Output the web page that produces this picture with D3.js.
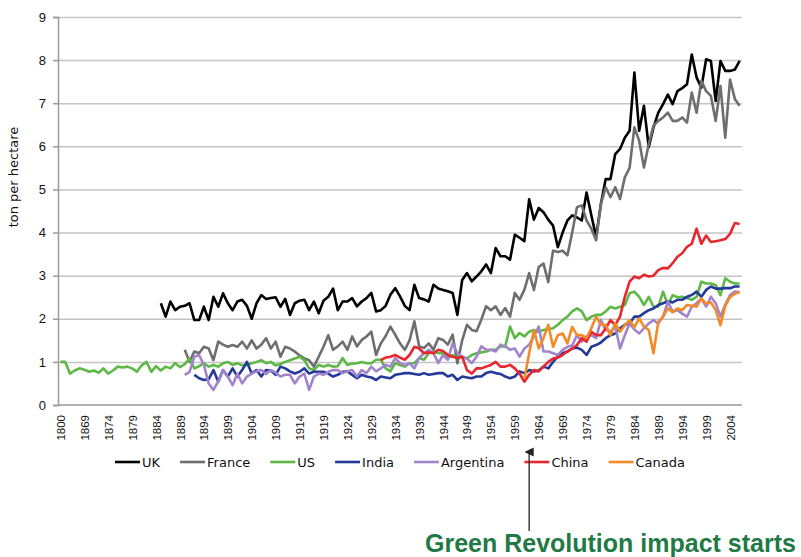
<!DOCTYPE html>
<html>
<head>
<meta charset="utf-8">
<script src="https://cdn.jsdelivr.net/npm/d3@7"></script>
<style>
  body { margin: 0; background: #fff; }
  svg { font-family: "DejaVu Sans", Verdana, sans-serif; }
  .grid line { stroke: #c4c4c4; stroke-width: 1.5; }
  .grid .domain { display: none; }
  .axis .domain, .axis line { stroke: #9a9a9a; stroke-width: 1.5; }
  .axis text { fill: #111; }
  .series { fill: none; stroke-width: 2.6; stroke-linejoin: round; }
</style>
</head>
<body>
<script>
// categories: one lone 1800 point, then every year 1865-2006
var categories = ['1800'].concat(d3.range(1865, 2007).map(String));
var tickLabels = ['1800', '1869', '1874', '1879', '1884', '1889', '1894', '1899', '1904', '1909',
  '1914', '1919', '1924', '1929', '1934', '1939', '1944', '1949', '1954', '1959', '1964',
  '1969', '1974', '1979', '1984', '1989', '1994', '1999', '2004'];
var yTicks = [0, 1, 2, 3, 4, 5, 6, 7, 8, 9];

// wheat yield, ton per hectare, first value belongs to the start category
var ukStart = '1885';
var ukValues = [
  2.36, 2.05, 2.40, 2.20, 2.28, 2.30, 2.36, 1.97, 1.97, 2.28,
  1.97, 2.51, 2.28, 2.59, 2.36, 2.20, 2.40, 2.44, 2.30, 2.00,
  2.36, 2.55, 2.46, 2.48, 2.50, 2.28, 2.46, 2.09, 2.36, 2.42,
  2.44, 2.20, 2.40, 2.13, 2.42, 2.51, 2.70, 2.20,
  2.40, 2.40, 2.48, 2.29, 2.40, 2.48, 2.60, 2.17, 2.20, 2.30,
  2.56, 2.71, 2.52, 2.30, 2.20, 2.79, 2.48, 2.45, 2.40, 2.79,
  2.70, 2.67, 2.64, 2.60, 2.09, 2.90, 3.06, 2.87, 2.98, 3.10,
  3.26, 3.06, 3.64, 3.45, 3.45, 3.37, 3.95, 3.88, 3.80, 4.77, 4.30, 4.57,
  4.47, 4.30, 4.16, 3.66, 4.00, 4.28, 4.40, 4.35, 4.28, 4.93,
  4.40, 3.90, 4.66, 5.24, 5.24, 5.82, 5.94, 6.20, 6.36, 7.71,
  6.36, 6.94, 5.98, 6.44, 6.78, 6.98, 7.20, 6.98, 7.28, 7.35,
  7.44, 8.13, 7.60, 7.36, 8.02, 7.98, 7.05, 7.98, 7.75, 7.75,
  7.78, 7.98];

var franceStart = '1890';
var franceValues = [
  1.28, 1.00, 1.24, 1.20, 1.35, 1.31, 1.04, 1.47, 1.40, 1.35,
  1.39, 1.35, 1.47, 1.31, 1.50, 1.31, 1.40, 1.55, 1.31, 1.47,
  1.12, 1.35, 1.31, 1.24, 1.15, 1.08, 1.04, 0.89, 1.12, 1.35,
  1.62, 1.28,
  1.36, 1.47, 1.28, 1.59, 1.36, 1.51, 1.59, 1.70, 1.16, 1.43,
  1.60, 1.82, 1.63, 1.43, 1.28, 1.50, 1.94, 1.36, 1.32, 1.43,
  1.28, 1.55, 1.51, 1.40, 1.63, 0.97, 1.50, 1.86, 1.74, 1.71,
  1.98, 2.29, 2.20, 2.29, 2.09, 2.25, 2.05, 2.60, 2.44, 2.67, 3.06, 2.67,
  3.20, 3.28, 2.85, 3.58, 3.55, 3.58, 3.47, 4.00, 4.59, 4.63,
  4.28, 4.09, 3.82, 4.66, 5.05, 4.82, 5.05, 4.78, 5.28, 5.50,
  6.44, 6.13, 5.51, 6.05, 6.48, 6.59, 6.67, 6.78, 6.59, 6.59,
  6.67, 6.55, 7.25, 6.78, 7.52, 7.28, 7.17, 6.59, 7.40, 6.20,
  7.55, 7.10, 6.94];

var usStart = '1800';
var usValues = [
  1.00,
  1.00, 0.73, 0.80, 0.85, 0.82, 0.77, 0.80, 0.75, 0.85, 0.73,
  0.80, 0.89, 0.87, 0.89, 0.85, 0.77, 0.92, 1.00, 0.77, 0.90,
  0.80, 0.89, 0.85, 0.97, 0.88, 0.95,
  1.08, 0.85, 0.90, 0.97, 0.89, 0.93, 0.89, 0.97, 1.00, 0.93,
  0.97, 0.92, 0.93, 0.97, 1.00, 1.04, 0.97, 1.00, 0.92, 0.95,
  1.00, 1.04, 1.08, 1.12, 1.04, 0.85, 0.81, 0.93, 0.89, 0.93,
  0.89, 0.90,
  1.09, 0.93, 0.96, 0.97, 1.00, 0.97, 0.97, 1.05, 1.05, 0.85,
  0.78, 0.97, 0.93, 0.89, 0.97, 0.97, 1.09, 1.05, 1.20, 1.24,
  1.20, 1.20, 1.08, 1.16, 1.10, 1.12, 1.08, 1.16, 1.20, 1.22,
  1.24, 1.28, 1.28, 1.36, 1.36, 1.82, 1.55, 1.67, 1.59, 1.70, 1.74, 1.70,
  1.74, 1.76, 1.78, 1.86, 1.97, 2.05, 2.17, 2.24, 2.17, 1.97,
  2.05, 2.09, 2.09, 2.17, 2.28, 2.24, 2.28, 2.32, 2.59, 2.63,
  2.51, 2.32, 2.51, 2.28, 2.28, 2.63, 2.32, 2.55, 2.50, 2.51,
  2.48, 2.44, 2.51, 2.86, 2.82, 2.82, 2.78, 2.55, 2.94, 2.86,
  2.82, 2.82];

var indiaStart = '1892';
var indiaValues = [
  0.70, 0.62, 0.58, 0.60, 0.81, 0.54, 0.81, 0.66, 0.85, 0.66,
  0.81, 1.00, 0.73, 0.81, 0.66, 0.81, 0.80, 0.70, 0.89, 0.85,
  0.78, 0.73, 0.77, 0.85, 0.73, 0.77, 0.77, 0.77, 0.73, 0.66, 0.70,
  0.77, 0.78, 0.70, 0.62, 0.70, 0.66, 0.64, 0.58, 0.66, 0.64,
  0.62, 0.70, 0.72, 0.74, 0.74, 0.72, 0.70, 0.74, 0.70, 0.72,
  0.74, 0.74, 0.66, 0.70, 0.58, 0.66, 0.64, 0.62, 0.66, 0.66,
  0.74, 0.77, 0.74, 0.72, 0.66, 0.62, 0.66, 0.78, 0.74, 0.81, 0.78, 0.80,
  0.89, 0.85, 1.00, 1.12, 1.20, 1.24, 1.31, 1.33, 1.28, 1.16,
  1.35, 1.39, 1.45, 1.55, 1.62, 1.66, 1.78, 1.86, 1.89, 2.05,
  2.05, 2.13, 2.20, 2.24, 2.32, 2.36, 2.40, 2.38, 2.44, 2.44,
  2.51, 2.55, 2.63, 2.51, 2.67, 2.75, 2.70, 2.70, 2.71, 2.71,
  2.75, 2.75];

var argentinaStart = '1890';
var argentinaValues = [
  0.70, 0.77, 1.12, 1.16, 0.93, 0.50, 0.35, 0.55, 0.81, 0.66,
  0.46, 0.73, 0.50, 0.66, 0.73, 0.78, 0.81, 0.72, 0.81, 0.75,
  0.66, 0.70, 0.70, 0.50, 0.66, 0.73, 0.35, 0.66, 0.73, 0.70,
  0.77, 0.81, 0.81,
  0.74, 0.78, 0.81, 0.66, 0.81, 0.74, 0.89, 0.78, 0.85, 0.93,
  0.89, 1.09, 0.97, 0.93, 0.97, 0.85, 1.09, 1.20, 1.28, 1.20,
  0.97, 1.16, 1.05, 1.43, 1.20, 1.12, 1.08, 0.97, 1.12, 1.36,
  1.28, 1.28, 1.24, 1.40, 1.36, 1.28, 1.31, 1.12, 1.31, 1.40,
  1.59, 1.82, 1.24, 1.24, 1.20, 1.16, 1.28, 1.35, 1.38, 1.62,
  1.47, 1.59, 1.62, 1.55, 1.97, 1.74, 1.70, 1.82, 1.31, 1.62,
  1.89, 1.75, 1.66, 1.78, 1.89, 1.97, 1.89, 2.05, 2.40, 2.17,
  2.20, 2.12, 2.05, 2.28, 2.36, 2.47, 2.28, 2.51, 2.36, 2.05,
  2.33, 2.55, 2.63, 2.62];

var chinaStart = '1931';
var chinaValues = [
  1.04, 1.10, 1.12, 1.16, 1.10, 1.05, 1.16, 1.35, 1.31, 1.20,
  1.22, 1.20, 1.28, 1.25, 1.16, 1.12, 1.09, 1.12, 0.81, 0.73,
  0.85, 0.85, 0.89, 0.93, 1.00, 0.89, 0.89, 0.93, 0.85, 0.73,
  0.54, 0.70, 0.81, 0.78, 0.89, 1.00, 1.08, 1.10, 1.16, 1.24,
  1.31, 1.39, 1.55, 1.47, 1.70, 1.62, 1.62, 1.78, 1.97, 1.85,
  2.05, 2.51, 2.86, 2.98, 2.94, 3.02, 2.98, 3.00, 3.13, 3.18,
  3.17, 3.29, 3.44, 3.52, 3.67, 3.74, 4.09, 3.74, 3.93, 3.78,
  3.80, 3.82, 3.85, 3.97, 4.22, 4.20];

var canadaStart = '1961';
var canadaValues = [
  0.60, 1.20, 1.74, 1.31, 1.55, 1.86, 1.35, 1.62, 1.66, 1.43,
  1.81, 1.62, 1.62, 1.55, 1.78, 2.05, 1.86, 1.86, 1.62, 1.89,
  1.70, 1.85, 1.97, 1.80, 2.01, 1.82, 1.74, 1.20, 1.93, 2.05,
  2.24, 2.15, 2.24, 2.20, 2.32, 2.30, 2.28, 2.47, 2.35, 2.38,
  2.20, 1.85, 2.30, 2.50, 2.58, 2.62];

var seriesNames = ['UK', 'France', 'US', 'India', 'Argentina', 'China', 'Canada'];
var seriesColors = ['#000000', '#6e6e6e', '#5db845', '#24399a', '#a184cb', '#e8262d', '#f28a26'];
var seriesStarts = [ukStart, franceStart, usStart, indiaStart, argentinaStart, chinaStart, canadaStart];
var seriesValues = [ukValues, franceValues, usValues, indiaValues, argentinaValues, chinaValues, canadaValues];

var series = seriesNames.map(function (name, i) {
  var first = categories.indexOf(seriesStarts[i]);
  return {
    name: name,
    color: seriesColors[i],
    points: seriesValues[i].map(function (v, j) {
      return { cat: categories[first + j], value: v };
    })
  };
});

var W = 801, H = 557;
var margin = { top: 17, right: 59, bottom: 152, left: 58 };
var width = W - margin.left - margin.right;
var height = H - margin.top - margin.bottom;

var svg = d3.select('body').append('svg')
  .attr('width', W)
  .attr('height', H);

var g = svg.append('g')
  .attr('transform', 'translate(' + margin.left + ',' + margin.top + ')');

var x = d3.scalePoint()
  .domain(categories)
  .range([0, width])
  .padding(0.5);

var y = d3.scaleLinear()
  .domain([0, 9])
  .range([height, 0]);

// gridlines
g.append('g')
  .attr('class', 'grid')
  .call(d3.axisLeft(y).tickValues(yTicks.slice(1)).tickSize(-width).tickFormat(''));

// y axis
var yAxis = g.append('g')
  .attr('class', 'axis')
  .call(d3.axisLeft(y).tickValues(yTicks).tickSize(5).tickPadding(7).tickFormat(d3.format('d')));
yAxis.selectAll('text').style('font-size', '13px');

// x axis
var xAxis = g.append('g')
  .attr('class', 'axis')
  .attr('transform', 'translate(0,' + height + ')')
  .call(d3.axisBottom(x).tickValues(tickLabels).tickSize(0).tickSizeOuter(0));
xAxis.select('.domain').attr('d', 'M0,0H' + width);
xAxis.selectAll('text')
  .style('font-size', '11.5px')
  .attr('text-anchor', 'end')
  .attr('transform', 'rotate(-90)')
  .attr('x', -10)
  .attr('y', 0)
  .attr('dy', '0.35em');

g.append('text')
  .attr('transform', 'translate(' + (18 - margin.left) + ',' + (177 - margin.top) + ') rotate(-90)')
  .attr('text-anchor', 'middle')
  .style('font-size', '13px')
  .attr('fill', '#111')
  .text('ton per hectare');

var line = d3.line()
  .x(function (d) { return x(d.cat); })
  .y(function (d) { return y(d.value); });

g.selectAll('.series')
  .data(series)
  .enter().append('path')
  .attr('class', 'series')
  .attr('stroke', function (d) { return d.color; })
  .attr('d', function (d) { return line(d.points); });

// legend, laid out left to right then centred
var legend = svg.append('g');
var cursor = 0;
series.forEach(function (s) {
  var item = legend.append('g').attr('transform', 'translate(' + cursor + ',0)');
  item.append('line')
    .attr('x1', 0).attr('x2', 25)
    .attr('y1', 0).attr('y2', 0)
    .attr('stroke', s.color)
    .attr('stroke-width', 2.6);
  var t = item.append('text')
    .attr('x', 27)
    .attr('dy', '0.35em')
    .style('font-size', '13px')
    .attr('fill', '#111')
    .text(s.name);
  cursor += 27 + t.node().getComputedTextLength() + 20;
});
cursor -= 20;
legend.attr('transform', 'translate(' + (400 - cursor / 2) + ',462)');

// green revolution marker
svg.append('defs').append('marker')
  .attr('id', 'arrow')
  .attr('viewBox', '0 0 10 10')
  .attr('refX', 5).attr('refY', 5)
  .attr('markerWidth', 7).attr('markerHeight', 7)
  .attr('orient', 'auto')
  .append('path')
  .attr('d', 'M0,10L5,0L10,10Z')
  .attr('fill', '#222');

var arrowX = margin.left + x('1962');
svg.append('line')
  .attr('x1', arrowX).attr('x2', arrowX)
  .attr('y1', 531).attr('y2', 452)
  .attr('stroke', '#222')
  .attr('stroke-width', 1.3)
  .attr('marker-end', 'url(#arrow)');

svg.append('text')
  .attr('x', 425)
  .attr('y', 552)
  .style('font-family', '"Liberation Sans", Arial, sans-serif')
  .style('font-weight', 'bold')
  .style('font-size', '25px')
  .attr('fill', '#1f7a45')
  .text('Green Revolution impact starts');
</script>
</body>
</html>
